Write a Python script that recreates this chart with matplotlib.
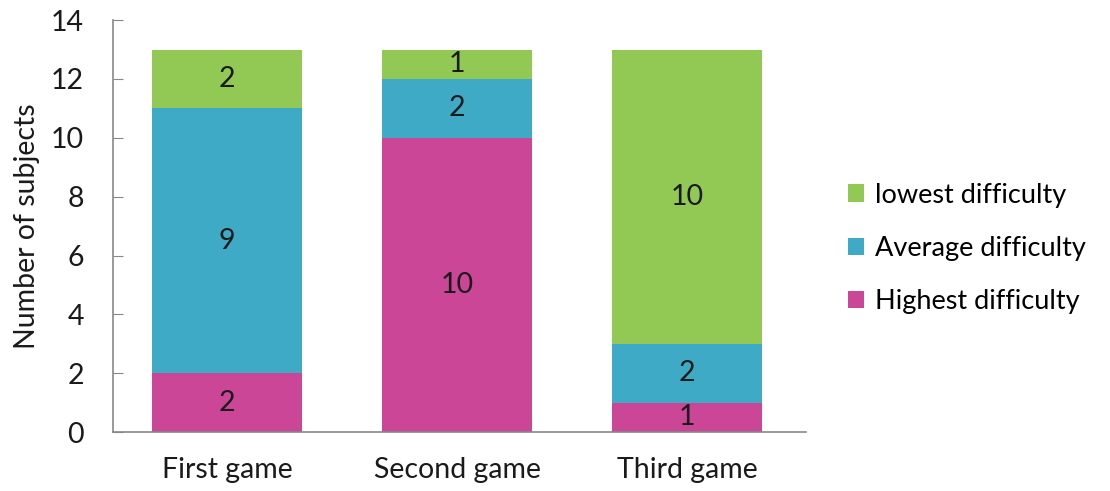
import matplotlib
matplotlib.use("Agg")
import matplotlib.pyplot as plt
import numpy as np

categories = ["First game", "Second game", "Third game"]
highest = [2, 10, 1]
average = [9, 2, 2]
lowest = [2, 1, 10]
series_names = ["Highest difficulty", "Average difficulty", "lowest difficulty"]
colors = ["#CB4696", "#3EAAC6", "#92C955"]

plt.rcParams['font.family'] = ['Lato', 'DejaVu Sans']
fig = plt.figure(figsize=(11.1, 4.91), dpi=100)
ax = fig.add_axes([0.1018, 0.120, 0.6243, 0.839])

FS = 20.5
x = np.arange(len(categories))
w = 0.652
bottom = np.zeros(len(categories))
handles = []
for vals, name, c in zip([highest, average, lowest], series_names, colors):
    bars = ax.bar(x, vals, w, bottom=bottom, color=c, label=name)
    for xi, b, v in zip(x, bottom, vals):
        ax.text(xi, b + v / 2, str(v), ha='center', va='center', fontsize=FS, color='#1a1a1a')
    handles.append(bars)
    bottom += np.array(vals)

ax.set_xlim(-0.496, 2.517)
ax.set_ylim(0, 14)
ax.set_yticks(range(0, 15, 2))
ax.set_xticks(x)
ax.set_xticklabels(categories)
ax.tick_params(axis='y', direction='in', length=7, color='#888888', labelsize=FS, pad=21, labelcolor='#1a1a1a')
ax.tick_params(axis='x', length=0, labelsize=FS, pad=18, labelcolor='#1a1a1a')
for s in ['top', 'right']:
    ax.spines[s].set_visible(False)
for s in ['left', 'bottom']:
    ax.spines[s].set_color('#888888')
    ax.spines[s].set_linewidth(1.2)
ax.set_ylabel("Number of subjects", fontsize=FS, color='#1a1a1a')
ax.yaxis.set_label_coords(-0.106, 0.5)

leg = fig.legend(handles[::-1], [series_names[2], series_names[1], series_names[0]],
                 loc='center left', bbox_to_anchor=(0.742, 0.494), frameon=False,
                 fontsize=19.5, handlelength=0.6, handleheight=0.6, handletextpad=0.4,
                 labelspacing=1.05)

fig.savefig("out.png", dpi=100)
